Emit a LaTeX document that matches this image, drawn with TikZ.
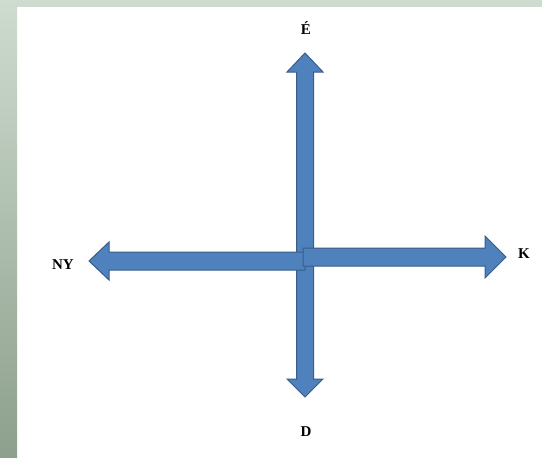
\documentclass[tikz,border=0pt]{standalone}
\usepackage{fontspec}
\setmainfont{Liberation Serif}
\definecolor{arrowblue}{HTML}{4F81BD}
\definecolor{arrowedge}{HTML}{385D8A}
\definecolor{stripgreen}{HTML}{CEDCCF}
\definecolor{stripblue}{HTML}{C0D4EA}
\definecolor{stripdark}{HTML}{8D9F8D}
\begin{document}
\begin{tikzpicture}[x=1pt,y=-1pt,
  arrowshape/.style={fill=arrowblue, draw=arrowedge, line width=1pt, line join=miter},
  lbl/.style={font=\bfseries\fontsize{15}{17}\selectfont, text=black, inner sep=0pt}]
\useasboundingbox (0,0) rectangle (542,458);
\fill[white] (0,0) rectangle (542,458);
\fill[stripgreen] (0,0) rectangle (542,7);
\shade[top color=stripgreen, middle color=stripblue, bottom color=stripdark] (0,0) rectangle (17,458);
% vertical double arrow
\draw[arrowshape] (305,53) -- (323,72) -- (313.5,72) -- (313.5,379) -- (323,379) -- (305,397)
  -- (287,379) -- (296.5,379) -- (296.5,72) -- (287,72) -- cycle;
% left arrow
\draw[arrowshape] (89,261) -- (109,242) -- (109,252) -- (305,252) -- (305,270) -- (109,270)
  -- (109,280) -- cycle;
% right arrow
\draw[arrowshape] (303,248) -- (485,248) -- (485,236) -- (506,257) -- (485,278) -- (485,266)
  -- (303,266) -- cycle;
% labels
\node[lbl] (north) at (306,28) {É};
\node[lbl] (west) at (63,265) {NY};
\node[lbl] (east) at (524,254) {K};
\node[lbl] (south) at (306,432) {D};
\end{tikzpicture}
\end{document}
